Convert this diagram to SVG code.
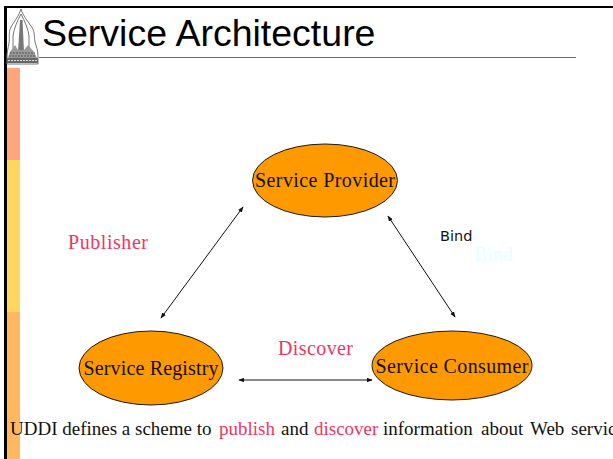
<svg xmlns="http://www.w3.org/2000/svg" width="613" height="459" viewBox="0 0 613 459">
<style>
.s{font-family:"Liberation Serif","Times New Roman",serif;font-size:20px;fill:#111}
.r{font-family:"Liberation Serif","Times New Roman",serif;font-size:20px;fill:#f0365f}
.e{fill:#ff9900;stroke:#1a1a1a;stroke-width:1}
.c{stroke:#111;stroke-width:1;fill:none;marker-start:url(#a);marker-end:url(#a)}
.l{fill:none;stroke:#777;stroke-width:1}
</style>
<defs><marker id="a" viewBox="0 0 8 6" refX="7" refY="3" markerWidth="6" markerHeight="5" orient="auto-start-reverse" markerUnits="userSpaceOnUse"><path d="M0 0L8 3L0 6z" fill="#111"/></marker></defs>
<rect width="613" height="459" fill="#fff"/>
<rect x="4" y="6" width="609" height="2" fill="#000"/>
<rect x="4" y="6" width="3" height="453" fill="#000"/>
<rect x="7" y="68" width="13" height="92" fill="#ffa67c"/>
<rect x="7" y="160" width="13" height="152" fill="#ffd75e"/>
<rect x="7" y="312" width="13" height="147" fill="#ffb860"/>
<g id="logo">
<path class="l" d="M21 9C19 16 15 20 11 27C8 33 10 38 9 43C8 48 7 52 7 58L7 64H38L38 56C38 50 36 46 35 42C34 36 35 31 31 26C27 20 23 16 21 9Z" fill="#fafafa"/>
<path class="l" d="M21 14C17 22 14 28 13 36L13 56M21 14C25 22 28 28 29 36L29 56"/>
<path d="M20 20H22.500L24 52H18Z" fill="#777"/>
<path d="M10 52L15 45L18 50H24L28 45L34 52L37 58H8Z" fill="#999"/>
<path d="M10 53H35M9 56H36" stroke="#555" stroke-width="1" stroke-dasharray="2 1"/>
<rect x="7" y="58" width="31" height="5" fill="#666"/>
<path d="M8 60.500H37" stroke="#ddd" stroke-width="1" stroke-dasharray="2 1"/>
</g>
<text x="42" y="46" font-family="Liberation Sans,Arial,sans-serif" font-size="37.500" fill="#000">Service Architecture</text>
<line x1="39" y1="57.500" x2="576" y2="57.500" stroke="#666688" stroke-width="1"/>
<g id="connectors">
<line class="c" x1="243" y1="207" x2="161" y2="318"/>
<line class="c" x1="388" y1="216" x2="455" y2="317"/>
<line class="c" x1="239" y1="380" x2="372" y2="380"/>
</g>
<g id="provider"><ellipse class="e" cx="325" cy="180.500" rx="72.500" ry="36.500"/><text class="s" x="325" y="187" text-anchor="middle" textLength="140">Service Provider</text></g>
<g id="registry"><ellipse class="e" cx="151" cy="368" rx="72" ry="37"/><text class="s" x="151" y="375" text-anchor="middle" textLength="135">Service Registry</text></g>
<g id="consumer"><ellipse class="e" cx="452" cy="365.500" rx="80" ry="34.500"/><text class="s" x="452" y="373" text-anchor="middle" textLength="153">Service Consumer</text></g>
<text class="r" x="68" y="249" textLength="80">Publisher</text>
<text class="r" x="278" y="355" textLength="75">Discover</text>
<text x="440" y="241" font-family="DejaVu Sans,sans-serif" font-size="14.500" fill="#111">Bind</text>
<text x="474" y="261" font-family="Liberation Serif,serif" font-size="20" fill="#e4ffff">Bind</text>
<text x="10" y="435" font-family="Liberation Serif,serif" font-size="19" fill="#111" xml:space="preserve">UDDI defines a scheme to <tspan x="219" fill="#f0365f">publish</tspan> <tspan x="281">and</tspan> <tspan x="314" fill="#f0365f">discover</tspan> <tspan x="383">information</tspan> <tspan x="481">about</tspan> <tspan x="530">Web</tspan> <tspan x="571">service</tspan></text>
</svg>
